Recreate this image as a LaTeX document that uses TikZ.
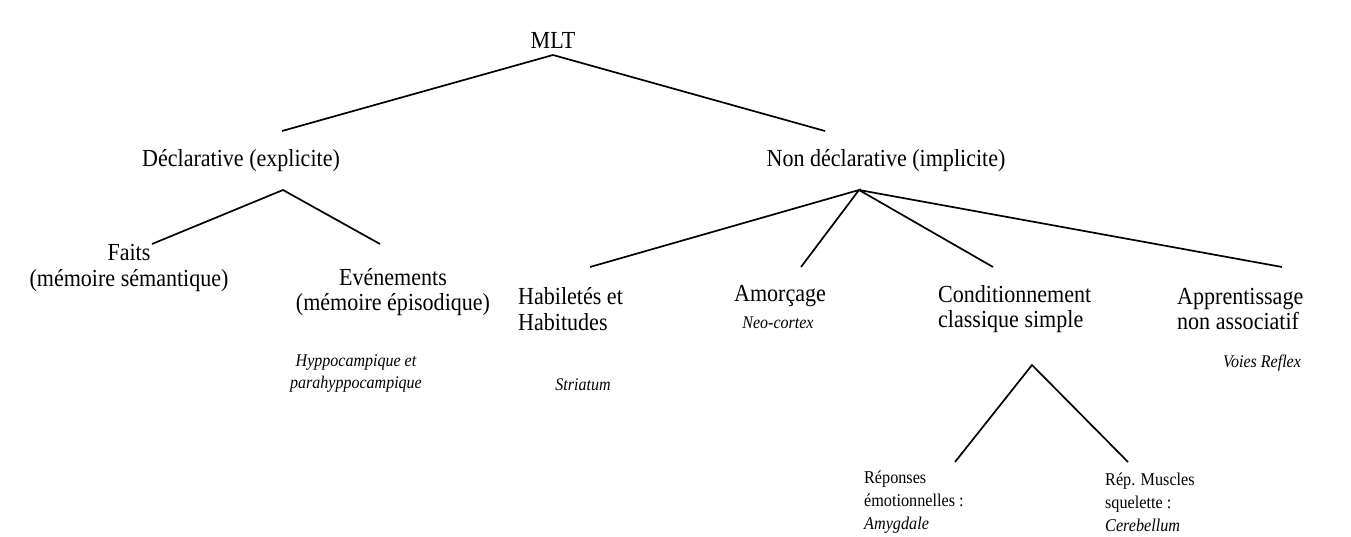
\documentclass[tikz,border=0pt]{standalone}
\usepackage{fontspec}
\setmainfont{Liberation Serif}
\begin{document}
\begin{tikzpicture}[x=1pt,y=-1pt,
  lbl/.style={inner sep=0pt, xscale=0.9, transform shape, font=\fontsize{24.5}{25.5}\selectfont},
  lblL/.style={lbl, align=left},
  lblC/.style={lbl, align=center},
  sml/.style={inner sep=0pt, xscale=0.9, transform shape, font=\fontsize{17.8}{22}\selectfont\itshape, align=center},
  btm/.style={inner sep=0pt, xscale=0.9, transform shape, font=\fontsize{18}{23}\selectfont, align=left},
  br/.style={line width=1.7pt}]
\useasboundingbox (0,0) rectangle (1351,537);

% labels
\node[lbl] (mlt) at (553,40) {MLT};
\node[lbl] (decl) at (241,161) {Déclarative (explicite)};
\node[lbl] (ndecl) at (886,161) {Non déclarative (implicite)};
\node[lblC] (faits) at (129,268) {Faits\\(mémoire sémantique)};
\node[lblC] (even) at (393,292) {Evénements\\(mémoire épisodique)};
\node[sml] (hyppo) at (356,374) {Hyppocampique et\\parahyppocampique};
\node[lblL, anchor=west] (habil) at (518,309) {Habiletés et\\Habitudes};
\node[lbl] (amorc) at (780,296) {Amorçage};
\node[sml] (neo) at (778,323) {Neo-cortex};
\node[lblL, anchor=west] (cond) at (938,309) {Conditionnement\\classique simple};
\node[lblL, anchor=west] (appr) at (1177,309) {Apprentissage\\non associatif};
\node[sml] (stri) at (583,385) {Striatum};
\node[sml] (voies) at (1262,363) {Voies Reflex};
\node[btm, anchor=west] (rep) at (864,502) {Réponses\\émotionnelles :\\\textit{Amygdale}};
\node[btm, anchor=west] (musc) at (1105,502) {Rép. Muscles\\squelette :\\\textit{Cerebellum}};

% branch points
\coordinate (aMLT) at (553,55);
\coordinate (eDecl) at (282,131);
\coordinate (eNdecl) at (825,131);
\coordinate (aDecl) at (283,190);
\coordinate (eFaits) at (152,244);
\coordinate (eEven) at (380,244);
\coordinate (aNdecl) at (859,190);
\coordinate (eHabil) at (590,267);
\coordinate (eAmorc) at (801,267);
\coordinate (eCond) at (993,267);
\coordinate (eAppr) at (1282,267);
\coordinate (aCond) at (1032,365);
\coordinate (eRep) at (955,462);
\coordinate (eMusc) at (1128,462);

\draw[br] (eDecl) -- (aMLT) -- (eNdecl);
\draw[br] (eFaits) -- (aDecl) -- (eEven);
\draw[br] (eHabil) -- (aNdecl) -- (eAmorc);
\draw[br] (aNdecl) -- (eCond);
\draw[br] (aNdecl) -- (eAppr);
\draw[br] (eRep) -- (aCond) -- (eMusc);
\end{tikzpicture}
\end{document}
